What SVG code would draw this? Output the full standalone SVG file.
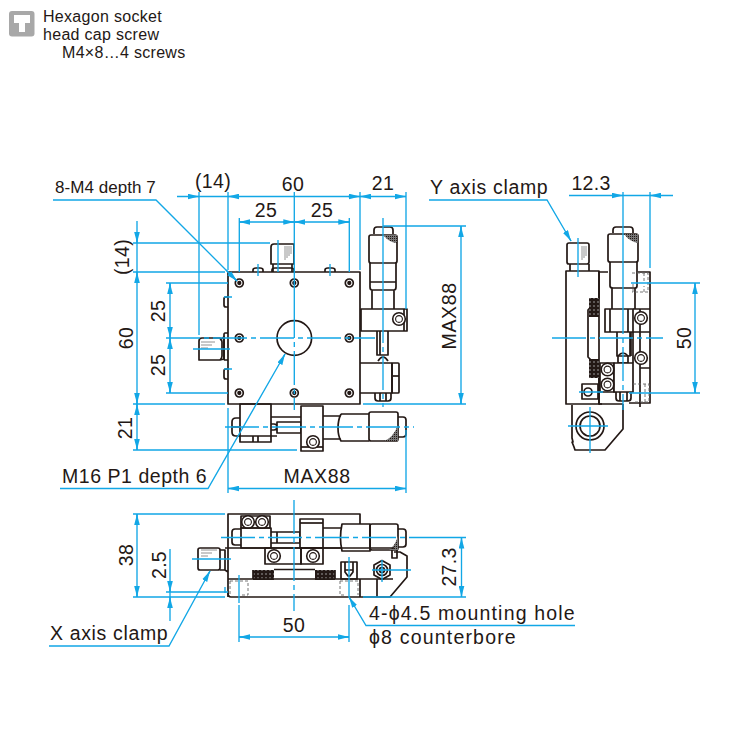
<svg xmlns="http://www.w3.org/2000/svg" width="750" height="750" viewBox="0 0 750 750">
<style>
text{font-family:"Liberation Sans",Arial,sans-serif;fill:#231815}
.t{font-size:19.5px;letter-spacing:.3px}.m{text-anchor:middle}.s{font-size:16px;letter-spacing:.3px}
.k,.k *{fill:none;stroke:#231815;stroke-width:1.7;stroke-linejoin:round}
.w{fill:#fff!important}
.n{stroke-width:.8!important;stroke:#777!important}
.dash{stroke-width:.9!important;stroke:#666!important;stroke-dasharray:3 2}
.h{fill:url(#hat)!important;stroke:none!important}
.sh{fill:url(#shd)!important;stroke:none!important}
.d,.d *{fill:none;stroke:#12a7e6;stroke-width:1.35}
.c{stroke-dasharray:34 4 5 4}
</style>
<defs>
<marker id="a" markerUnits="userSpaceOnUse" markerWidth="12" markerHeight="6" refX="11" refY="3" orient="auto"><path d="M0 0.2L11 3L0 5.8Z" fill="#12a7e6"/></marker>
<pattern id="hat" width="4" height="4" patternUnits="userSpaceOnUse"><rect width="4" height="4" fill="#231815"/><circle cx="2" cy="2" r=".8" fill="#aaa"/></pattern>
<pattern id="shd" width="2" height="2" patternUnits="userSpaceOnUse"><rect width="2" height="2" fill="#777"/><rect width="1" height="1" fill="#231815"/></pattern>
<g id="hole"><circle r="4" fill="#fff" stroke="#231815" stroke-width="1.7"/><circle r="1.3" fill="#231815"/></g>
<g id="bolt"><circle r="6.3" fill="#fff" stroke="#231815" stroke-width="1.6"/><circle r="3.4" fill="#fff" stroke="#231815" stroke-width="1.1"/></g>
</defs>
<g id="legend">
<rect x="9" y="11" width="25.500" height="25.500" rx="3" fill="#a8a8a8"/>
<path d="M14 15H30V23H25V32H19V23H14Z" fill="#fff"/>
<text class="s" x="43" y="22">Hexagon socket</text>
<text class="s" x="43" y="40">head cap screw</text>
<text class="s" x="62" y="58">M4×8…4 screws</text>
</g>
<g id="top-view" class="k">
<rect x="228" y="272" width="132" height="132" class="w"/>
<circle cx="294.300" cy="338" r="17.300"/>
<path d="M253 272v-2q0-2 3-2h4q3 0 3 2v2M325 272v-2q0-2 3-2h4q3 0 3 2v2M272 272v-2q0-2 3-2h16q3 0 3 2v2"/>
<path d="M228 297h-2q-2 0-2 2v6q0 2 2 2h2M228 369h-2q-2 0-2 2v6q0 2 2 2h2M228 333h-3q-1 0-1 2v23q0 2 1 2h3"/>
<path d="M271 264V247q0-3 3-3h20v20h-23ZM273 264v8M292 264v8"/>
<path class="n" d="M285 246v14M287 246v12M289 246v10M291 246v8"/>
<path d="M220 338h-18q-3 0-3 3v19h21q2-2 2-4v-14q0-2-2-4ZM220 340l4-3v22l-4 1"/>
<path class="n" d="M201 342h14M201 345h11M201 348h7"/>
<use href="#hole" x="239.300" y="283"/><use href="#hole" x="294.300" y="283"/><use href="#hole" x="349.300" y="283"/>
<use href="#hole" x="239.300" y="338"/><use href="#hole" x="349.300" y="338"/>
<use href="#hole" x="239.300" y="393"/><use href="#hole" x="294.300" y="393"/><use href="#hole" x="349.300" y="393"/>
<path d="M374 234v-4q0-3 3-3h13q3 0 3 3v4"/>
<rect x="369" y="235" width="28" height="28" rx="2"/>
<path d="M370 263v24q0 3 2 3h22q2 0 2-3v-24M370 282h26M372 290v19M394 290v19"/>
<path class="sh" d="M383 235h14v8q-7 0-14-8Z"/>
<rect x="361" y="309" width="46" height="22" class="w"/><path d="M404 309v22"/>
<use href="#bolt" x="399" y="319"/>
<path d="M377 331v24h11v-24M380 331v24"/>
<path d="M378 361q5-8 10 0"/>
<path d="M360 363h32v30h-32"/><rect x="392" y="363" width="7" height="30" rx="1"/><path d="M393 376h6"/>
<path d="M375 393v5q0 3 3 3h10q3 0 3-3v-5M380 393v8M386 393v8"/>
<rect x="240" y="404" width="31" height="38"/><path d="M240 436h31M253 436v6M258 436v6"/>
<path d="M240 418h-4q-4 0-4 4v10q0 4 4 4h4M232 427h8"/>
<path d="M271 417h30M271 436h6M277 422h24v11h-24ZM271 424h3q3 0 3 3t-3 3h-3"/>
<rect x="301" y="406" width="22" height="45" class="w"/>
<path d="M301 447h22"/><use href="#bolt" x="313" y="442"/>
<path d="M323 416h18M323 439h18M341 414q-3 6-3 14t3 13h28M341 414h28"/>
<rect x="369" y="412" width="29" height="29" rx="2"/>
<path d="M398 417h5q3 0 3 3v14q0 3-3 3h-5"/>
<path class="sh" d="M398 425v16h-14q9-3 14-16Z"/>
</g>
<g id="side-view" class="k">
<rect x="566" y="271" width="33" height="133"/>
<path d="M599 272h9M638 272h12v131h-21M599 404h3"/>
<path d="M640 309v98M599 271v27L588 310V357L599 368v25"/>
<rect x="567" y="243" width="22" height="21" rx="2"/>
<path d="M570 264v7M589 264v7"/>
<path class="n" d="M582 246v14M584 246v12M586 246v10"/>
<rect class="h" x="589" y="298" width="10" height="19"/><rect class="h" x="589" y="359" width="10" height="19"/>
<path d="M613 233v-3q0-3 3-3h14q3 0 3 3v3"/>
<rect x="608" y="234" width="30" height="28" rx="2" class="w"/>
<path class="sh" d="M624 234h14v9q-8-1-14-9Z"/>
<path d="M610 262v24q0 2 3 2h22q2 0 2-2v-24M612 288v21M635 288v21"/>
<rect x="605" y="309" width="28" height="23" class="w"/><path d="M610 309v23M628 309v23"/>
<path d="M633 309h17M633 332h17"/><use href="#bolt" x="641" y="318"/><use href="#bolt" x="641" y="358"/>
<path d="M617 332v24h13v-24M631 332v24M633 332v31M640 368h10"/>
<path d="M618 356q5-6 10 0v7h-10Z"/>
<rect x="600" y="363" width="14" height="29"/><rect x="614" y="363" width="19" height="29" class="w"/>
<use href="#bolt" x="607.500" y="369.500"/><use href="#bolt" x="607.500" y="384.500"/>
<path d="M616 392v6q0 3 3 3h9q3 0 3-3v-6M620 392v9M627 392v9M599 392v12h24"/>
<rect x="582" y="384" width="16" height="15"/><circle cx="588" cy="392" r="4"/>
<path class="dash" d="M632 273h16v19h-16M633 384h16v18h-16M644 273v8M644 292v-6M633 284v8M645 384v18"/>
<path d="M572 405v33l1 4h-1l2 5 1 3h30l18-21v-25"/>
<circle cx="590" cy="426" r="14"/><circle cx="590" cy="426" r="10"/>
</g>
<g id="front-view" class="k">
<path d="M228 548V514H360V524"/>
<rect x="241" y="516" width="29" height="12"/><use href="#bolt" x="248" y="522"/><use href="#bolt" x="262" y="522"/>
<rect x="241" y="528" width="30" height="20"/>
<path d="M241 529h-6q-3 0-3 3v10q0 3 3 3h6"/>
<path d="M271 532h6v11h-6M277 532h23v11h-23"/>
<rect x="300" y="519" width="23" height="29" class="w"/><path d="M300 523h23"/>
<path d="M323 528h19M323 548h19"/>
<path d="M342 524h28v27h-28Q339 538 342 524Z"/><rect x="370" y="524" width="28" height="26" rx="2"/>
<path d="M398 529h5q3 0 3 3v12q0 3-3 3h-5"/><path class="sh" d="M398 536v14h-9q6-4 9-14Z"/>
<path d="M225 548H394M228 548v49M225 551v19l3 2M220 550h5v20h-5"/>
<rect x="198" y="548" width="22" height="22" rx="2"/>
<path class="n" d="M201 550h16M201 553h11M201 556h7"/>
<rect x="265" y="548" width="36" height="16"/><rect x="301" y="548" width="22" height="16"/>
<use href="#bolt" x="274" y="556"/><use href="#bolt" x="313" y="556"/>
<path stroke-width="2.200" d="M274 569.500H315"/>
<rect class="h" x="253" y="570" width="21" height="10"/><rect class="h" x="315" y="570" width="20" height="10"/>
<path d="M228 579H393M228 593q0 4 3 4H360M253 579v-9M335 570v9M360 579v18"/>
<path class="dash" d="M230 581h18v14h-6M230 581v14M340 581h18v14M340 581v14h6"/>
<rect x="341" y="562" width="16" height="17"/><path d="M345 562v10l3 4h2l3-4v-10M345 570h8"/>
<path d="M394 552h6l7 4q0 0 0 2v19l-17 20h-30M377 579v18"/>
<path d="M392 550v8h5v-8"/>
<path d="M382 560.500l8 4.500v10l-8 4.500l-8-4.500v-10Z"/><circle cx="382" cy="570" r="5.500"/><circle cx="382" cy="570" r="2.500"/>
</g>
<g id="connectors" class="d">
<path d="M177 196.500H406M199 192V335M228 192V270M360 192V270M406 192V309"/>
<line x1="188" y1="196.500" x2="199" y2="196.500" marker-end="url(#a)"/><line x1="239" y1="196.500" x2="228" y2="196.500" marker-end="url(#a)"/>
<line x1="348" y1="196.500" x2="360" y2="196.500" marker-end="url(#a)"/><line x1="371" y1="196.500" x2="360" y2="196.500" marker-end="url(#a)"/><line x1="395" y1="196.500" x2="406" y2="196.500" marker-end="url(#a)"/>
<path d="M239 222H349M239.300 218V272M349.300 218V272"/>
<line x1="250" y1="222" x2="239.300" y2="222" marker-end="url(#a)"/><line x1="283" y1="222" x2="294.300" y2="222" marker-end="url(#a)"/><line x1="305" y1="222" x2="294.300" y2="222" marker-end="url(#a)"/><line x1="338" y1="222" x2="349.300" y2="222" marker-end="url(#a)"/>
<path d="M294.300 192V304"/><path class="c" d="M294.300 304V410"/>
<path d="M137 221V450M133 243H270M133 272H225M133 404H225M133 450H297M166 283H228M166 393H228M170 283V393"/>
<line x1="137" y1="232" x2="137" y2="243" marker-end="url(#a)"/><line x1="137" y1="283" x2="137" y2="272" marker-end="url(#a)"/>
<line x1="137" y1="393" x2="137" y2="404" marker-end="url(#a)"/><line x1="137" y1="415" x2="137" y2="404" marker-end="url(#a)"/><line x1="137" y1="439" x2="137" y2="450" marker-end="url(#a)"/>
<line x1="170" y1="294" x2="170" y2="283" marker-end="url(#a)"/><line x1="170" y1="327" x2="170" y2="338" marker-end="url(#a)"/><line x1="170" y1="349" x2="170" y2="338" marker-end="url(#a)"/><line x1="170" y1="382" x2="170" y2="393" marker-end="url(#a)"/>
<path class="c" d="M166 338H375"/>
<path d="M278 240V272M224 297H232M224 369H232M258 264V276M330 264V276M193 349H230"/>
<path d="M383 218V309"/><path class="c" d="M383 309V407"/>
<path class="c" d="M225 427H414"/>
<path d="M383 226H466M461 226V404M363 404H466"/>
<line x1="461" y1="237" x2="461" y2="226" marker-end="url(#a)"/><line x1="461" y1="393" x2="461" y2="404" marker-end="url(#a)"/>
<path d="M228 408V493M406 430V493M228 488.500H406"/>
<line x1="239" y1="488.500" x2="228" y2="488.500" marker-end="url(#a)"/><line x1="395" y1="488.500" x2="406" y2="488.500" marker-end="url(#a)"/>
<path d="M53 200H156L237 281"/><path d="M226 270L237 281" marker-end="url(#a)"/>
<path d="M60 488.500H208L285 354"/><line x1="280" y1="363.500" x2="285" y2="354" marker-end="url(#a)"/>
<path d="M429 200H547L571 241"/><line x1="565.500" y1="231.500" x2="571" y2="241" marker-end="url(#a)"/>
<path d="M569 195.500H673M623 192V300M650 192V268"/><path class="c" d="M623 300V410"/>
<line x1="612" y1="195.500" x2="623" y2="195.500" marker-end="url(#a)"/><line x1="661" y1="195.500" x2="650" y2="195.500" marker-end="url(#a)"/>
<path d="M631 283H700M629 393H700M695 283V393"/>
<line x1="695" y1="294" x2="695" y2="283" marker-end="url(#a)"/><line x1="695" y1="382" x2="695" y2="393" marker-end="url(#a)"/>
<path class="c" d="M552 338H663"/>
<path d="M578 238V277M568 426H608M590 407V453M579 392H603"/>
<path d="M133 514H225M133 597H225M137 514V597"/>
<line x1="137" y1="525" x2="137" y2="514" marker-end="url(#a)"/><line x1="137" y1="586" x2="137" y2="597" marker-end="url(#a)"/>
<path d="M170 549V621M166 592H228M192 559H231M225 587V593"/>
<line x1="170" y1="581" x2="170" y2="592" marker-end="url(#a)"/><line x1="170" y1="608" x2="170" y2="597" marker-end="url(#a)"/>
<path d="M49 646H169L210 571"/><line x1="204.700" y1="580.700" x2="210" y2="571" marker-end="url(#a)"/>
<path class="c" d="M294 500V611"/>
<path d="M239 575V603M239 605V642M349 557V597M349 605V642M239 637H349"/>
<line x1="250" y1="637" x2="239" y2="637" marker-end="url(#a)"/><line x1="338" y1="637" x2="349" y2="637" marker-end="url(#a)"/>
<path class="c" d="M221 537.500H415"/>
<path d="M415 537.500H466M363 597H466M461.500 537.500V597"/>
<line x1="461.500" y1="548.500" x2="461.500" y2="537.500" marker-end="url(#a)"/><line x1="461.500" y1="586" x2="461.500" y2="597" marker-end="url(#a)"/>
<path d="M372 570H411M382 560V582"/>
<path d="M575 625.500H366L349 597"/><line x1="354.700" y1="606.500" x2="349" y2="597" marker-end="url(#a)"/>
</g>
<g id="labels">
<text class="t m" x="213" y="188">(14)</text>
<text class="t m" x="293" y="191">60</text>
<text class="t m" x="383" y="190">21</text>
<text class="t m" x="266" y="217">25</text>
<text class="t m" x="322" y="217">25</text>
<text class="s" style="font-size:17px" x="55" y="193" textLength="101">8-M4 depth 7</text>
<text class="t" x="430" y="194" textLength="118">Y axis clamp</text>
<text class="t m" x="591" y="190">12.3</text>
<text class="t m" transform="translate(129 257) rotate(-90)">(14)</text>
<text class="t m" transform="translate(133 338) rotate(-90)">60</text>
<text class="t m" transform="translate(165 311) rotate(-90)">25</text>
<text class="t m" transform="translate(165 365) rotate(-90)">25</text>
<text class="t m" transform="translate(132 428) rotate(-90)">21</text>
<text class="t m" transform="translate(456 316) rotate(-90)" textLength="67">MAX88</text>
<text class="t m" transform="translate(691 338) rotate(-90)">50</text>
<text class="t" x="62" y="483" textLength="145">M16 P1 depth 6</text>
<text class="t m" x="317" y="483" textLength="67">MAX88</text>
<text class="t m" transform="translate(133 555) rotate(-90)">38</text>
<text class="t m" transform="translate(166 565) rotate(-90)">2.5</text>
<text class="t m" transform="translate(456 567) rotate(-90)">27.3</text>
<text class="t m" x="294" y="632">50</text>
<text class="t" x="50" y="640" textLength="118">X axis clamp</text>
<text class="t" x="369" y="620" textLength="206">4-ϕ4.5 mounting hole</text>
<text class="t" x="369" y="644" textLength="147">ϕ8 counterbore</text>
</g>
</svg>
